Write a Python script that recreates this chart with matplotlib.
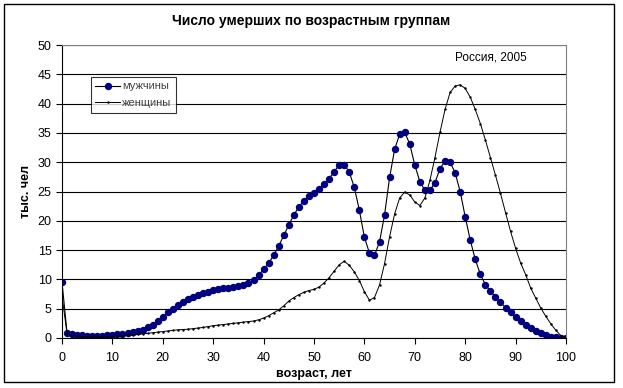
import numpy as np
import matplotlib.pyplot as plt
from matplotlib.patches import Rectangle

plt.rcParams['font.family'] = ['Liberation Sans', 'DejaVu Sans']

ages = list(range(0, 101))

# deaths, thousands
men = [9.5, 0.9, 0.7, 0.55, 0.45, 0.4, 0.35, 0.35, 0.4, 0.45,
       0.5, 0.6, 0.75, 0.9, 1.0, 1.2, 1.4, 1.8, 2.3, 2.9,
       3.6, 4.4, 5.0, 5.6, 6.1, 6.6, 7.0, 7.3, 7.6, 7.9,
       8.2, 8.4, 8.5, 8.6, 8.7, 8.8, 9.0, 9.4, 9.9, 10.7,
       11.7, 12.8, 14.1, 15.7, 17.5, 19.3, 21.0, 22.4, 23.4, 24.2,
       24.8, 25.4, 26.3, 27.2, 28.4, 29.5, 29.6, 28.3, 25.7, 21.8,
       17.2, 14.5, 14.1, 16.4, 21.0, 27.4, 32.2, 34.8, 35.1, 33.1,
       29.5, 26.7, 25.2, 25.2, 26.5, 28.9, 30.2, 30.0, 28.2, 25.0,
       20.7, 16.7, 13.4, 10.9, 9.1, 8.0, 7.0, 6.1, 5.2, 4.4,
       3.6, 2.9, 2.3, 1.7, 1.25, 0.8, 0.45, 0.2, 0.1, 0.05, 0.05]

women = [7.2, 0.7, 0.4, 0.3, 0.25, 0.22, 0.2, 0.2, 0.22, 0.25,
         0.28, 0.3, 0.35, 0.45, 0.5, 0.6, 0.7, 0.8, 0.9, 1.0,
         1.1, 1.2, 1.3, 1.4, 1.45, 1.5, 1.6, 1.7, 1.8, 1.95,
         2.1, 2.2, 2.3, 2.4, 2.5, 2.6, 2.7, 2.8, 2.9, 3.1,
         3.4, 3.8, 4.3, 4.8, 5.5, 6.3, 6.9, 7.4, 7.8, 8.1,
         8.3, 8.7, 9.4, 10.3, 11.4, 12.5, 13.1, 12.4, 11.3, 9.8,
         7.9, 6.45, 6.9, 9.05, 12.7, 17.3, 21.2, 23.9, 24.9, 24.4,
         23.2, 22.6, 23.9, 26.9, 30.8, 35.1, 39.0, 41.9, 43.0, 43.2,
         42.6, 41.1, 39.0, 36.6, 33.8, 30.8, 27.8, 24.7, 21.4, 18.2,
         15.3, 12.8, 10.8, 8.5, 6.8, 5.1, 3.7, 2.4, 1.3, 0.4, 0.1]

fig = plt.figure(figsize=(6.23, 3.88), dpi=100)
ax = fig.add_axes([62 / 623, 1 - 338 / 388, 504 / 623, 293 / 388])

ax.plot(ages, men, color='black', lw=0.8, marker='o', ms=4.3,
        mfc='#000080', mec='#000080', label='мужчины')
ax.plot(ages, women, color='black', lw=0.7, marker='.', ms=1.5,
        label='женщины')

ax.set_xlim(0, 100)
ax.set_ylim(0, 50)
ax.set_xticks(range(0, 101, 10))
ax.set_yticks(range(0, 51, 5))
ax.yaxis.grid(True, color='black', lw=0.8)
ax.set_axisbelow(True)
ax.tick_params(labelsize=9, length=4, width=0.8, direction='out')
ax.tick_params(axis='x', pad=6)
for side in ('top', 'right'):
    ax.spines[side].set_color('#808080')
for side in ('left', 'bottom'):
    ax.spines[side].set_color('black')
ax.spines[:].set_linewidth(0.8)

ax.set_xlabel('возраст, лет', fontsize=9, fontweight='bold', labelpad=3)
ax.set_ylabel('тыс. чел', fontsize=9, fontweight='bold', labelpad=4)
fig.text(0.5, 1 - 21 / 388, 'Число умерших по возрастным группам',
         ha='center', va='center', fontsize=10, fontweight='bold')
ax.text(85, 47.8, 'Россия, 2005', ha='center', va='center', fontsize=8.5)

leg = ax.legend(loc='upper left', bbox_to_anchor=(29 / 504, 1 - 32 / 293),
                fontsize=8, frameon=True, fancybox=False, edgecolor='black',
                borderpad=0.4, labelspacing=0.6, handlelength=2.2,
                handletextpad=0.2, borderaxespad=0)
leg.get_frame().set_linewidth(0.8)
for t in leg.get_texts():
    t.set_color('#404040')

fig.patches.append(Rectangle((4 / 623, 1 - 382 / 388), 610 / 623, 378 / 388,
                             transform=fig.transFigure, fill=False,
                             edgecolor='black', lw=1))

fig.savefig('out.png', dpi=100)
